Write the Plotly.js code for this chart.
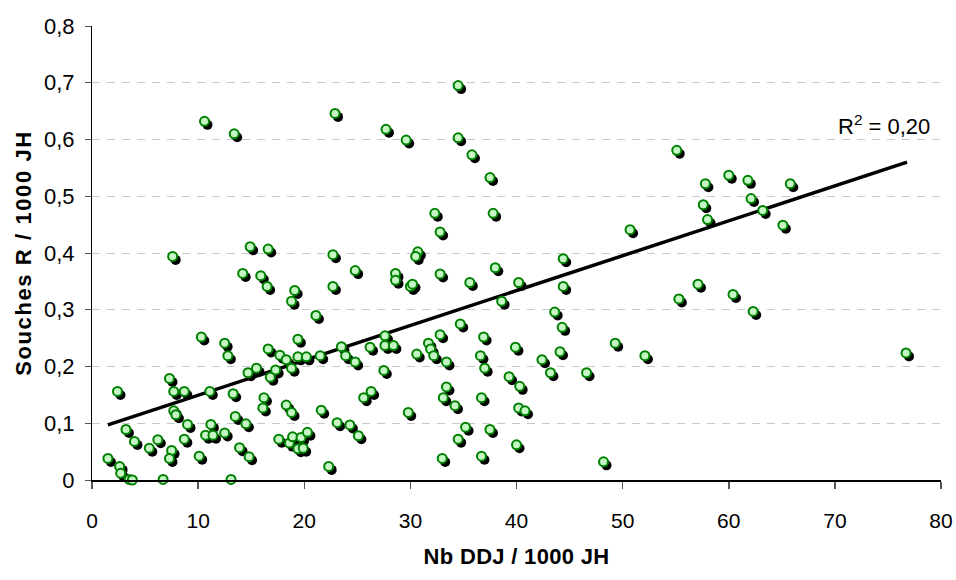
<!DOCTYPE html>
<html>
<head>
<meta charset="utf-8">
<script src="https://cdn.plot.ly/plotly-3.0.1.min.js"></script>
<style>
  html, body { margin: 0; padding: 0; background: #fff; }
  #chart { width: 956px; height: 580px; }
  #chart .ytitle { letter-spacing: 1.6px; }
  #chart .xtitle { letter-spacing: 0.3px; }
</style>
</head>
<body>
<div id="chart"></div>
<script>
// Consommation (DDJ / 1000 JH) vs souches résistantes (/ 1000 JH), one value per service
const ddj = [
  10.6, 13.4, 7.6, 14.9, 16.6, 34.5, 22.9, 27.7, 29.6, 34.5,
  35.8, 37.5, 37.8, 32.3, 32.8, 22.7, 30.7, 30.5, 55.1, 60.0,
  57.8, 57.6, 58.0, 50.7, 44.4, 61.8, 65.8, 62.1, 63.2, 65.1,
  14.2, 15.9, 16.5, 19.1, 18.8, 10.3, 12.5, 12.8, 16.6, 17.7,
  18.3, 19.4, 19.4, 20.2, 14.7, 15.5, 17.3, 16.8, 18.8, 7.3,
  7.7, 8.7, 2.4, 11.1, 13.3, 16.2, 16.1, 18.3, 18.8, 7.7,
  7.9, 13.5, 14.5, 9.0, 11.2, 3.2, 10.7, 11.4, 12.5, 4.0,
  6.2, 8.7, 5.4, 7.5, 7.3, 10.1, 13.9, 14.8, 17.6, 18.6,
  18.9, 19.7, 20.3, 19.4, 19.9, 1.5, 2.6, 2.7, 3.5, 3.8,
  6.7, 13.1, 24.8, 28.6, 28.6, 30.0, 30.2, 32.8, 35.6, 38.0,
  22.7, 40.2, 38.6, 21.1, 34.7, 32.8, 36.9, 39.9, 27.6, 27.6,
  28.4, 26.2, 23.5, 23.9, 24.8, 21.5, 30.6, 31.7, 31.9, 32.2,
  33.4, 36.6, 37.0, 39.3, 40.3, 27.5, 33.4, 33.1, 34.2, 36.7,
  40.2, 26.3, 25.6, 21.6, 29.8, 23.1, 24.3, 25.1, 35.2, 37.5,
  34.5, 33.0, 36.7, 40.0, 22.3, 44.4, 43.6, 44.3, 44.1, 42.4,
  43.2, 46.6, 49.3, 52.1, 55.3, 57.1, 40.8, 48.2, 60.4, 62.3,
  76.7
];
const souchesR = [
  0.632, 0.610, 0.394, 0.411, 0.407, 0.695, 0.646, 0.618, 0.599, 0.603,
  0.573, 0.533, 0.470, 0.470, 0.437, 0.397, 0.402, 0.394, 0.581, 0.537,
  0.522, 0.485, 0.459, 0.441, 0.390, 0.528, 0.522, 0.496, 0.475, 0.449,
  0.364, 0.360, 0.341, 0.334, 0.315, 0.252, 0.241, 0.219, 0.231, 0.220,
  0.212, 0.248, 0.217, 0.217, 0.189, 0.197, 0.194, 0.181, 0.197, 0.179,
  0.156, 0.156, 0.156, 0.156, 0.152, 0.145, 0.127, 0.132, 0.119, 0.122,
  0.115, 0.112, 0.099, 0.098, 0.098, 0.089, 0.079, 0.079, 0.083, 0.068,
  0.071, 0.072, 0.056, 0.052, 0.038, 0.042, 0.057, 0.041, 0.072, 0.065,
  0.076, 0.075, 0.084, 0.055, 0.056, 0.038, 0.024, 0.012, 0.001, 0.000,
  0.001, 0.001, 0.369, 0.364, 0.352, 0.341, 0.345, 0.363, 0.348, 0.374,
  0.341, 0.348, 0.315, 0.290, 0.275, 0.256, 0.252, 0.234, 0.254, 0.237,
  0.237, 0.234, 0.235, 0.219, 0.208, 0.219, 0.222, 0.241, 0.231, 0.219,
  0.208, 0.219, 0.197, 0.182, 0.165, 0.193, 0.164, 0.145, 0.131, 0.145,
  0.127, 0.156, 0.145, 0.123, 0.119, 0.101, 0.097, 0.078, 0.093, 0.089,
  0.072, 0.038, 0.042, 0.062, 0.024, 0.341, 0.296, 0.269, 0.226, 0.212,
  0.189, 0.189, 0.241, 0.219, 0.319, 0.345, 0.122, 0.032, 0.327, 0.297,
  0.224
];
// Linear trendline (Excel "courbe de tendance"), end points over the data range
const trendX = [1.5, 76.8];
const trendY = [0.097, 0.560];
const xTicks = [0, 10, 20, 30, 40, 50, 60, 70, 80];
const yTicks = [0, 0.1, 0.2, 0.3, 0.4, 0.5, 0.6, 0.7, 0.8];
const r2Label = 'R<sup>2</sup> = 0,20';

const W = 956, H = 580;
const M = { l: 92, r: 15, t: 26, b: 100 };
const plotW = W - M.l - M.r, plotH = H - M.t - M.b;
const xRange = [0, 80], yRange = [0, 0.8];
// drop shadow offset in pixels, converted to axis units
const shX = 3 * (xRange[1] - xRange[0]) / plotW;
const shY = 3.5 * (yRange[1] - yRange[0]) / plotH;

const FONT = '"Liberation Sans", Arial, sans-serif';

const traces = [
  {
    type: 'scatter', mode: 'lines', x: trendX, y: trendY,
    xaxis: 'x', yaxis: 'y', cliponaxis: false, hoverinfo: 'skip',
    line: { color: '#000000', width: 3.5 }
  },
  {
    type: 'scatter', mode: 'markers', x: ddj, y: souchesR,
    xaxis: 'x2', yaxis: 'y2', cliponaxis: false, hoverinfo: 'skip',
    marker: { size: 10, color: '#000000', line: { width: 0 } }
  },
  {
    type: 'scatter', mode: 'markers', x: ddj, y: souchesR,
    xaxis: 'x3', yaxis: 'y3', cliponaxis: false,
    marker: { size: 9, color: '#c4f7c4', line: { width: 2, color: '#008000' } }
  }
];

const layout = {
  width: W, height: H,
  margin: M,
  paper_bgcolor: '#ffffff', plot_bgcolor: '#ffffff',
  showlegend: false,
  separators: ', ',
  font: { family: FONT, color: '#000000', size: 21 },
  xaxis: {
    range: xRange, tickvals: xTicks, ticks: 'outside', ticklen: 7, tickwidth: 1.5, tickcolor: '#555555',
    showline: true, linecolor: '#000000', linewidth: 1.5, showgrid: false, zeroline: false,
    tickfont: { family: FONT, size: 21 }, ticklabelstandoff: 14,
    title: { text: 'Nb DDJ / 1000 JH', font: { family: FONT, size: 22, weight: 'bold' }, standoff: 18 },
    fixedrange: true
  },
  yaxis: {
    range: yRange, tickvals: yTicks, ticks: 'outside', ticklen: 6, tickwidth: 1, tickcolor: '#555555',
    showline: true, linecolor: '#000000', linewidth: 1, zeroline: false,
    showgrid: true, gridcolor: '#c8c8c8', gridwidth: 1, griddash: '8px,7px',
    tickfont: { family: FONT, size: 22 }, ticklabelstandoff: 6,
    title: { text: 'Souches R / 1000 JH', font: { family: FONT, size: 22, weight: 'bold' }, standoff: 6 },
    fixedrange: true
  },
  xaxis2: { overlaying: 'x', range: [xRange[0] - shX, xRange[1] - shX], visible: false, fixedrange: true },
  yaxis2: { overlaying: 'y', range: [yRange[0] + shY, yRange[1] + shY], visible: false, fixedrange: true },
  xaxis3: { overlaying: 'x', range: xRange, visible: false, fixedrange: true },
  yaxis3: { overlaying: 'y', range: yRange, visible: false, fixedrange: true },
  annotations: [
    {
      xref: 'paper', yref: 'paper', x: 0.933, y: 0.782, xanchor: 'center', yanchor: 'middle',
      text: r2Label, showarrow: false, font: { family: FONT, size: 22, color: '#000000' }
    }
  ]
};

Plotly.newPlot('chart', traces, layout, { displayModeBar: false, staticPlot: true });
</script>
</body>
</html>
